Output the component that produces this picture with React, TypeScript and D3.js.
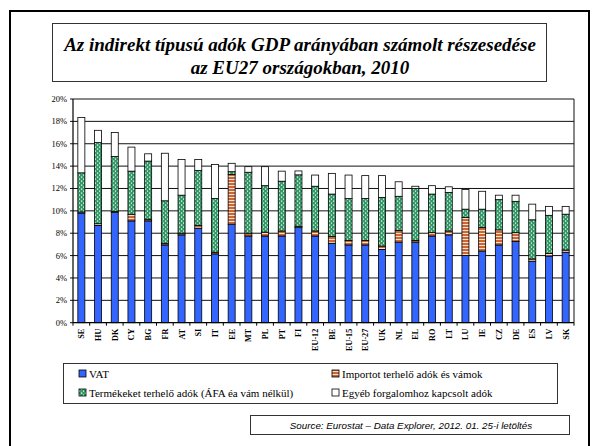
import React from "react";
import * as d3 from "d3";

const countries = ["SE", "HU", "DK", "CY", "BG", "FR", "AT", "SI", "IT", "EE", "MT", "PL", "PT", "FI", "EU-12", "BE", "EU-15", "EU-27", "UK", "NL", "EL", "RO", "LT", "LU", "IE", "CZ", "DE", "ES", "LV", "SK"];

const vat = [9.8, 8.7, 9.85, 9.1, 9.1, 6.95, 7.85, 8.45, 6.15, 8.8, 7.75, 7.75, 7.75, 8.5, 7.75, 7.1, 6.95, 6.95, 6.55, 7.2, 7.2, 7.75, 7.85, 6.0, 6.4, 6.95, 7.25, 5.5, 5.95, 6.3];
const imports = [0.1, 0.15, 0.1, 0.6, 0.15, 0.15, 0.15, 0.25, 0.15, 4.45, 0.25, 0.35, 0.45, 0.12, 0.45, 0.6, 0.4, 0.4, 0.3, 1.05, 0.15, 0.3, 0.35, 3.4, 2.1, 1.35, 0.8, 0.2, 0.25, 0.2];
const products = [3.5, 7.25, 4.9, 3.85, 5.2, 3.8, 3.4, 4.9, 4.8, 0.25, 5.45, 4.15, 4.45, 4.6, 4.0, 3.8, 3.75, 3.75, 4.35, 3.05, 4.65, 3.45, 3.45, 0.75, 1.65, 2.7, 2.8, 3.5, 3.4, 3.2];
const other = [4.95, 1.1, 2.15, 2.15, 0.65, 4.25, 3.2, 1.0, 3.05, 0.75, 0.5, 1.7, 0.9, 0.35, 1.0, 1.85, 2.1, 2.05, 1.95, 1.3, 0.2, 0.75, 0.5, 1.75, 1.6, 0.4, 0.55, 1.4, 0.8, 0.7];

const yTicks = [0, 2, 4, 6, 8, 10, 12, 14, 16, 18, 20];

const seriesNames = ["VAT", "Importot terhelő adók és vámok", "Termékeket terhelő adók (ÁFA éa vám nélkül)", "Egyéb forgalomhoz kapcsolt adók"];

const serif = "Liberation Serif, DejaVu Serif, serif";
const sans = "Liberation Sans, Arial, sans-serif";

export default function App() {
  const left = 73, right = 574, top = 99, bottom = 322.7;

  const x = d3.scaleBand<string>()
    .domain(countries)
    .range([left, right])
    .paddingInner(0.58)
    .paddingOuter(0.29);

  const y = d3.scaleLinear().domain([0, 20]).range([bottom, top]);

  const rows = countries.map((c, i) => ({ c, vat: vat[i], imp: imports[i], prod: products[i], oth: other[i] }));
  const keys = ["vat", "imp", "prod", "oth"];
  const fills = ["#3366FF", "url(#stripes)", "url(#dots)", "#FFFFFF"];
  const stack = d3.stack<any>().keys(keys)(rows);

  const step = x.step();

  const legendItems = [
    { name: seriesNames[0], fill: fills[0], lx: 79, ly: 374 },
    { name: seriesNames[1], fill: fills[1], lx: 332, ly: 374 },
    { name: seriesNames[2], fill: fills[2], lx: 79, ly: 393 },
    { name: seriesNames[3], fill: fills[3], lx: 332, ly: 393 },
  ];

  const serifStyle = { fontFamily: serif };

  return (
    <svg width={600} height={446} style={{ position: "absolute", left: 0, top: 0, background: "#fff" }}>
      <defs>
        <pattern id="dots" width={4} height={4} patternUnits="userSpaceOnUse">
          <rect width={4} height={4} fill="#339966" />
          <rect x={1} y={0.5} width={1.2} height={1.2} fill="#ffffff" />
          <rect x={3} y={2.5} width={1.2} height={1.2} fill="#ffffff" />
        </pattern>
        <pattern id="stripes" width={4} height={3} patternUnits="userSpaceOnUse">
          <rect width={4} height={3} fill="#CC6633" />
          <rect y={2} width={4} height={1} fill="#F6E0D2" />
        </pattern>
      </defs>

      <rect x={10} y={11} width={579} height={445} fill="none" stroke="#000" strokeWidth={2} />

      {/* title */}
      <rect x={52.5} y={23.5} width={494} height={58} fill="#fff" stroke="#333" strokeWidth={1} />
      <g style={serifStyle} fontWeight="bold" fontStyle="italic" fontSize={19}>
        <text x={300} y={51} textAnchor="middle">Az indirekt típusú adók GDP arányában számolt részesedése</text>
        <text x={300} y={74} textAnchor="middle">az EU27 országokban, 2010</text>
      </g>

      {/* grid */}
      {yTicks.map(t => (
        <g key={t}>
          <line x1={left - 3} x2={t > 0 ? right : left} y1={y(t)} y2={y(t)} stroke="#111" strokeWidth={1} />
          <text x={67} y={y(t) + 3} textAnchor="end" style={serifStyle} fontSize={8.5}>{t}%</text>
        </g>
      ))}
      <line x1={right} x2={right} y1={top} y2={bottom} stroke="#111" strokeWidth={1} />

      {/* bars */}
      {stack.map((s, si) => (
        <g key={s.key}>
          {s.map((d, i) => (
            <rect key={i}
              x={x(countries[i])}
              y={y(d[1])}
              width={x.bandwidth()}
              height={Math.max(0, y(d[0]) - y(d[1]))}
              fill={fills[si]}
              stroke="#000"
              strokeWidth={0.8} />
          ))}
        </g>
      ))}

      {/* axes */}
      <line x1={left} x2={left} y1={top} y2={bottom} stroke="#000" strokeWidth={1.2} />
      <line x1={left} x2={right} y1={bottom} y2={bottom} stroke="#000" strokeWidth={1.2} />
      {d3.range(countries.length + 1).map(i => (
        <line key={i} x1={left + i * step} x2={left + i * step} y1={bottom} y2={bottom + 3} stroke="#000" strokeWidth={1} />
      ))}
      {countries.map(c => {
        const cx = (x(c) ?? 0) + x.bandwidth() / 2 + 3;
        return (
          <text key={c} transform={`translate(${cx},${bottom + 6}) rotate(-90)`} textAnchor="end"
            style={serifStyle} fontWeight="bold" fontSize={8.2}>{c}</text>
        );
      })}

      {/* legend */}
      <rect x={63.5} y={363.5} width={494} height={40} fill="#fff" stroke="#333" strokeWidth={1} />
      {legendItems.map(l => (
        <g key={l.name}>
          <rect x={l.lx} y={l.ly - 4} width={7} height={7} fill={l.fill} stroke="#000" strokeWidth={0.8} />
          <text x={l.lx + 10} y={l.ly + 3.5} style={serifStyle} fontSize={11}>{l.name}</text>
        </g>
      ))}

      {/* source */}
      <rect x={250.5} y={415.5} width={319} height={19} fill="#fff" stroke="#333" strokeWidth={1} />
      <text x={411} y={428.5} textAnchor="middle" style={{ fontFamily: sans }} fontStyle="italic" fontSize={9.8}>
        Source: Eurostat – Data Explorer, 2012. 01. 25-i letöltés
      </text>
    </svg>
  );
}
